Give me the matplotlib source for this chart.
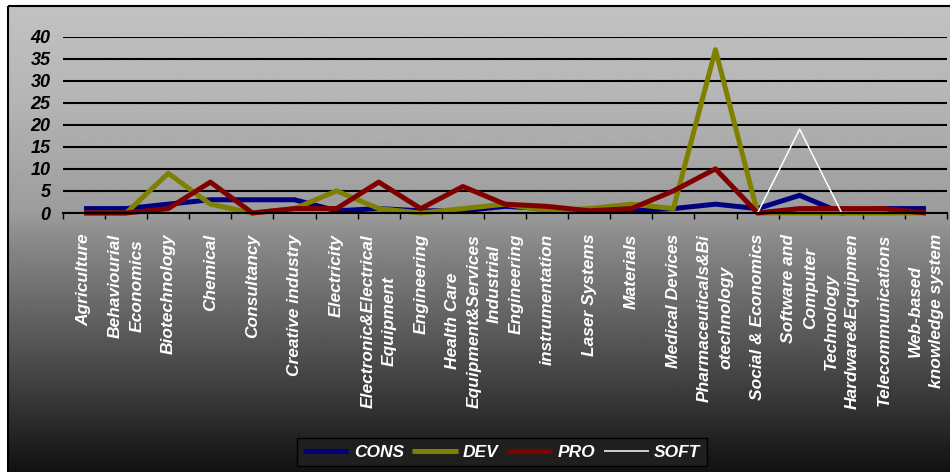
import numpy as np
import matplotlib
matplotlib.use("Agg")
import matplotlib.pyplot as plt
from matplotlib.patches import Rectangle

plt.rcParams['font.family'] = ['Liberation Sans', 'DejaVu Sans']

sectors = ["Agriculture", "Behaviourial\nEconomics", "Biotechnology", "Chemical",
           "Consultancy", "Creative industry", "Electricity",
           "Electronic&Electrical\nEquipment", "Engineering",
           "Health Care\nEquipment&Services", "Industrial\nEngineering",
           "instrumentation", "Laser Systems", "Materials", "Medical Devices",
           "Pharmaceuticals&Bi\notechnology", "Social & Economics",
           "Software and\nComputer", "Technology\nHardware&Equipmen",
           "Telecommunications", "Web-based\nknowledge system"]

cons = [1, 1, 2, 3, 3, 3, 0.5, 1, 0.5, 0.5, 1.5, 1, 0.5, 0.5, 1, 2, 1, 4, 0, 1, 1]
dev  = [0, 0, 9, 2, 0, 1, 5, 1, 0, 1, 2, 0.5, 1, 2, 1, 37, 0, 0, 0, 0, 0]
pro  = [0, 0, 1, 7, 0, 1, 1, 7, 1, 6, 2, 1.5, 0.5, 1, 5, 10, 0, 1, 1, 1, 0]
soft = [0, 0, 0, 0, 0, 0, 0, 0, 0, 0, 0, 0, 0, 0, 0, 0, 0, 19, 0, 0, 0]

W, H = 950, 472
fig = plt.figure(figsize=(W / 100, H / 100), dpi=100)

# chart area: silver-to-black vertical gradient with a black frame
bg = fig.add_axes([0, 0, 1, 1])
bg.set_xlim(0, W)
bg.set_ylim(H, 0)
bg.axis('off')
ys = np.linspace(6, H, 500)
shade = np.interp(ys, [6, 100, 213, 240, 300, 350, 400, 450, 472],
                  [0.76, 0.71, 0.61, 0.54, 0.42, 0.32, 0.22, 0.11, 0.07])
bg.imshow(shade[:, None], extent=(8, W + 2, H, 6), cmap='gray',
          vmin=0, vmax=1, aspect='auto', interpolation='bilinear')
bg.add_patch(Rectangle((8, 6), W - 6, H - 5, fill=False, ec='black', lw=1.5))

ax = fig.add_axes([63 / W, (H - 213) / H, (947 - 63) / W, (213 - 36.5) / H])
ax.patch.set_alpha(0)

x = np.arange(len(sectors)) + 0.5
styles = [("CONS", cons, '#000080', 3.6),
          ("DEV", dev, '#808000', 3.6),
          ("PRO", pro, '#800000', 3.6),
          ("SOFT", soft, 'white', 1.1)]
for name, vals, col, lw in styles:
    ax.plot(x, vals, color=col, lw=lw, label=name, clip_on=False,
            solid_joinstyle='round', solid_capstyle='butt')

ax.set_xlim(0, len(sectors))
ax.set_ylim(0, 40)
ax.set_yticks(range(0, 45, 5))
ax.yaxis.grid(True, color='black', lw=1.5)
ax.set_axisbelow(True)

ax.set_xticks(np.arange(len(sectors) + 1))
ax.set_xticklabels([])
ax.set_xticks(x, minor=True)
ax.set_xticklabels(sectors, minor=True, rotation=90, va='top', ha='center',
                   multialignment='center', linespacing=1.55,
                   color='white', fontsize=12.5, fontweight='bold',
                   fontstyle='italic')
ax.tick_params(axis='x', which='major', length=4, width=1, color='black',
               direction='out')
ax.tick_params(axis='x', which='minor', length=0, pad=15)
ax.tick_params(axis='y', length=0, pad=9)
for lab in ax.get_yticklabels():
    lab.set_fontsize(13)
    lab.set_fontweight('bold')
    lab.set_fontstyle('italic')

for s in ['left', 'right', 'top']:
    ax.spines[s].set_visible(False)
ax.spines['bottom'].set_color('black')
ax.spines['bottom'].set_linewidth(1.5)

leg = fig.legend(loc='center', bbox_to_anchor=(502 / W, 1 - 452 / H), ncol=4,
                 frameon=True, fancybox=False, facecolor='#1f1f1f',
                 edgecolor='black', framealpha=1, handlelength=2.6,
                 handletextpad=0.3, columnspacing=0.5, borderpad=0.35,
                 prop={'size': 12.5, 'weight': 'bold', 'style': 'italic'})
for t in leg.get_texts():
    t.set_color('white')
leg.get_frame().set_linewidth(1)

fig.savefig('out.png', dpi=100)
